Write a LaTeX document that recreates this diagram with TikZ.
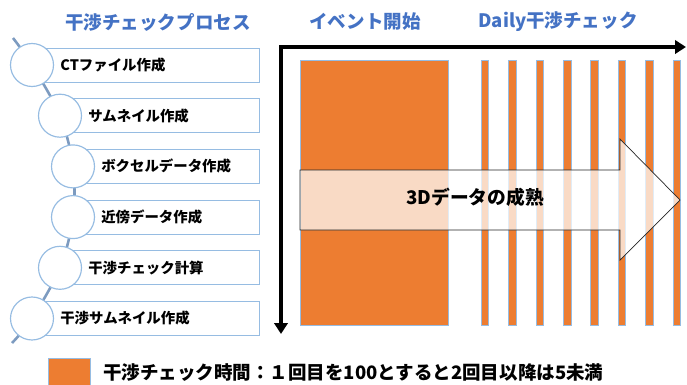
\documentclass[tikz,border=0pt]{standalone}
\usepackage{fontspec}
\setmainfont{Noto Sans CJK JP}
\usepackage{tikz}
\usetikzlibrary{positioning,arrows.meta}

\definecolor{titleblue}{RGB}{68,114,196}
\definecolor{checkorange}{RGB}{237,125,49}
\definecolor{edgeblue}{RGB}{150,188,226}
\definecolor{spineblue}{RGB}{125,155,192}

\begin{document}
\begin{tikzpicture}[x=0.03cm,y=-0.03cm,
    stepcircle/.style={circle,draw=edgeblue,line width=1pt,fill=white,minimum size=1.29cm,inner sep=0pt},
    stepbox/.style={rectangle,draw=edgeblue,line width=0.8pt,fill=white,minimum height=1.02cm,anchor=west,inner sep=0pt},
    steplabel/.style={font=\bfseries\fontsize{12.3}{14}\selectfont,anchor=west,inner sep=0pt},
    headline/.style={font=\bfseries\fontsize{15.8}{18}\selectfont,text=titleblue},
    checkbar/.style={fill=checkorange,draw=edgeblue,line width=0.3pt}]
    \useasboundingbox (0,0) rectangle (687,385);

    % Headlines
    \node[headline] (proc) at (158,22) {干渉チェックプロセス};
    \node[headline] (event) at (365,22) {イベント開始};
    \node[headline] (daily) at (558,22) {Daily干渉チェック};

    % Process spine
    \coordinate (top) at (13,38);
    \coordinate (p1) at (32,65);
    \coordinate (p2) at (60,115.7);
    \coordinate (p3) at (73,166.4);
    \coordinate (p4) at (73,217.1);
    \coordinate (p5) at (60,267.8);
    \coordinate (p6) at (32,318.5);
    \coordinate (bottom) at (12,343);
    \draw[spineblue,line width=2.2pt] plot[smooth,tension=0.55]
        coordinates {(top) (p1) (p2) (p3) (p4) (p5) (p6) (bottom)};

    % Process steps
    \node[stepbox,minimum width=6.81cm] (r1) at (p1) {};
    \node[stepcircle] (c1) at (p1) {};
    \node[steplabel,right=0.18cm of c1] (t1) {CTファイル作成};

    \node[stepbox,minimum width=5.97cm] (r2) at (p2) {};
    \node[stepcircle] (c2) at (p2) {};
    \node[steplabel,right=0.18cm of c2] (t2) {サムネイル作成};

    \node[stepbox,minimum width=5.58cm] (r3) at (p3) {};
    \node[stepcircle] (c3) at (p3) {};
    \node[steplabel,right=0.18cm of c3] (t3) {ボクセルデータ作成};

    \node[stepbox,minimum width=5.58cm] (r4) at (p4) {};
    \node[stepcircle] (c4) at (p4) {};
    \node[steplabel,right=0.18cm of c4] (t4) {近傍データ作成};

    \node[stepbox,minimum width=5.97cm] (r5) at (p5) {};
    \node[stepcircle] (c5) at (p5) {};
    \node[steplabel,right=0.18cm of c5] (t5) {干渉チェック計算};

    \node[stepbox,minimum width=6.81cm] (r6) at (p6) {};
    \node[stepcircle] (c6) at (p6) {};
    \node[steplabel,right=0.18cm of c6] (t6) {干渉サムネイル作成};

    % Time axes
    \coordinate (origin) at (281,47);
    \coordinate (xend) at (686,47);
    \coordinate (yend) at (281,334);
    \draw[line width=2.8pt,line join=miter,
          {Triangle[length=0.33cm,width=0.4cm]}-{Triangle[length=0.33cm,width=0.4cm]}]
        (yend) -- (origin) -- (xend);

    % First check
    \draw[checkbar] (300,60) rectangle (448,325);

    % Daily checks
    \draw[checkbar] (481,60) rectangle (488.5,325);
    \draw[checkbar] (508.4,60) rectangle (515.9,325);
    \draw[checkbar] (535.8,60) rectangle (543.3,325);
    \draw[checkbar] (563.2,60) rectangle (570.7,325);
    \draw[checkbar] (590.6,60) rectangle (598.1,325);
    \draw[checkbar] (618,60) rectangle (625.5,325);
    \draw[checkbar] (645.4,60) rectangle (652.9,325);
    \draw[checkbar] (672.8,60) rectangle (680.3,325);

    % Maturity arrow
    \draw[black!85,line width=0.6pt,fill=white,fill opacity=0.72]
        (300,170) -- (620,170) -- (620,139) -- (680,200) -- (620,260)
        -- (620,230) -- (300,230) -- cycle;
    \node[font=\bfseries\fontsize{16}{18}\selectfont] (mature) at (475,197) {3Dデータの成熟};

    % Legend
    \draw[checkbar] (48,358) rectangle (90,392);
    \node[font=\bfseries\fontsize{15.8}{18}\selectfont,anchor=west,inner sep=0pt] (legend) at (103,373)
        {干渉チェック時間：１回目を100とすると2回目以降は5未満};
\end{tikzpicture}
\end{document}
